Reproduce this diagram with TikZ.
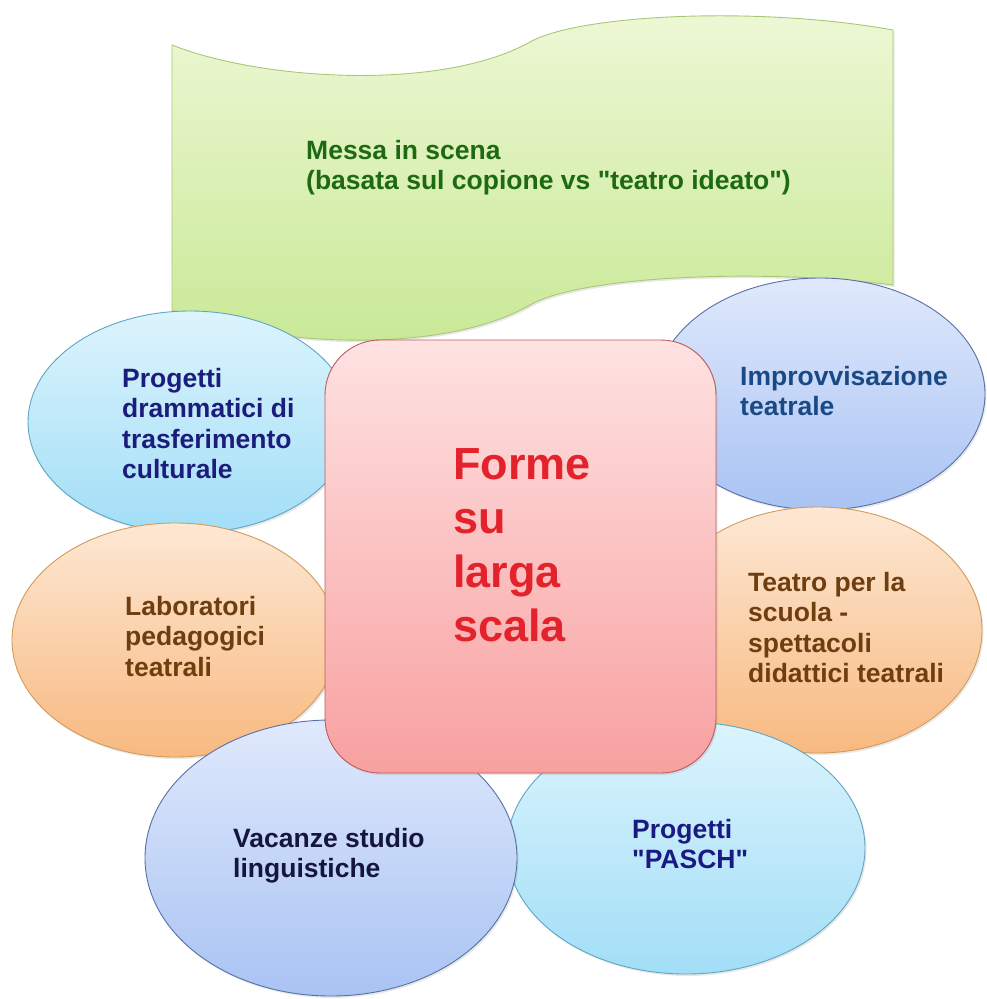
\documentclass[tikz,border=0pt]{standalone}
\usepackage{fontspec}
\setmainfont{Liberation Sans}
\usetikzlibrary{shapes.geometric,shadows}
\definecolor{greentop}{HTML}{EEF8D6}
\definecolor{greenbot}{HTML}{C8E894}
\definecolor{greenedge}{HTML}{A8C878}
\definecolor{greentxt}{HTML}{1D6A12}
\definecolor{cyantop}{HTML}{DCF4FD}
\definecolor{cyanbot}{HTML}{A2DEF7}
\definecolor{cyanedge}{HTML}{5FA6C0}
\definecolor{bluetop}{HTML}{E0E9FC}
\definecolor{bluebot}{HTML}{A9C3F3}
\definecolor{blueedge}{HTML}{5670A8}
\definecolor{orgtop}{HTML}{FDE8D4}
\definecolor{orgbot}{HTML}{F8B980}
\definecolor{orgedge}{HTML}{D49A5C}
\definecolor{pinktop}{HTML}{FFE2E2}
\definecolor{pinkbot}{HTML}{F8A0A0}
\definecolor{pinkedge}{HTML}{C05A5A}
\definecolor{tltxt}{HTML}{1C1C7C}
\definecolor{trtxt}{HTML}{1A4A86}
\definecolor{orgtxt}{HTML}{6E3E10}
\definecolor{bltxt}{HTML}{15163E}
\definecolor{brtxt}{HTML}{1A1A82}
\definecolor{centtxt}{HTML}{E3222B}
\begin{document}
\begin{tikzpicture}[x=1pt,y=-1pt,
  shad/.style={drop shadow={opacity=0.18,shadow xshift=1.5pt,shadow yshift=-2pt}},
  bubble/.style={ellipse, inner sep=0pt, line width=0.9pt, shad},
  cyanb/.style={bubble, draw=cyanedge, top color=cyantop, bottom color=cyanbot},
  blueb/.style={bubble, draw=blueedge, top color=bluetop, bottom color=bluebot},
  orgb/.style={bubble, draw=orgedge, top color=orgtop, bottom color=orgbot},
  txt/.style={anchor=north west, inner sep=0pt, align=left, font=\fontsize{26.5}{30.5}\selectfont\bfseries},
]
\useasboundingbox (0,0) rectangle (987,999);
% banner
\path[draw=greenedge, line width=0.9pt, top color=greentop, bottom color=greenbot, shad]
  (172,45) .. controls (260,80) and (440,92) .. (530,42)
  .. controls (580,14) and (760,6) .. (893,30) -- (893,285)
  .. controls (760,268) and (580,276) .. (530,305)
  .. controls (440,357) and (260,345) .. (172,310) -- cycle;
\node[txt, text=greentxt] (gtext) at (306,140) {Messa in scena\\(basata sul copione vs \textquotedbl teatro ideato\textquotedbl)};
% bubbles
\node[cyanb, minimum width=324pt, minimum height=222pt] (tl) at (190,422) {};
\node[blueb, minimum width=330pt, minimum height=232pt] (tr) at (820,394) {};
\node[orgb, minimum width=326pt, minimum height=234pt] (ml) at (175,640) {};
\node[orgb, minimum width=328pt, minimum height=246pt] (mr) at (818,630) {};
\node[cyanb, minimum width=358pt, minimum height=252pt] (br) at (686,848) {};
\node[blueb, minimum width=372pt, minimum height=276pt] (bl) at (331,858) {};
% centre
\node[draw=pinkedge, line width=0.9pt, rounded corners=55pt, minimum width=391pt, minimum height=433pt,
  top color=pinktop, bottom color=pinkbot, shad] (c) at (520.5,556.5) {};
% texts
\node[txt, text=tltxt] (tltext) at (122,368) {Progetti\\drammatici di\\trasferimento\\culturale};
\node[txt, text=trtxt] (trtext) at (740,366) {Improvvisazione\\teatrale};
\node[txt, text=orgtxt] (mltext) at (125,596) {Laboratori\\pedagogici\\teatrali};
\node[txt, text=orgtxt] (mrtext) at (748,572) {Teatro per la\\scuola -\\spettacoli\\didattici teatrali};
\node[txt, text=bltxt] (bltext) at (233,828) {Vacanze studio\\linguistiche};
\node[txt, text=brtxt] (brtext) at (632,819) {Progetti\\\textquotedbl PASCH\textquotedbl};
\node[anchor=north west, inner sep=0pt, align=left, font=\fontsize{45}{54}\selectfont\bfseries, text=centtxt] (ctext) at (453,448) {Forme\\su\\larga\\scala};
\end{tikzpicture}
\end{document}
